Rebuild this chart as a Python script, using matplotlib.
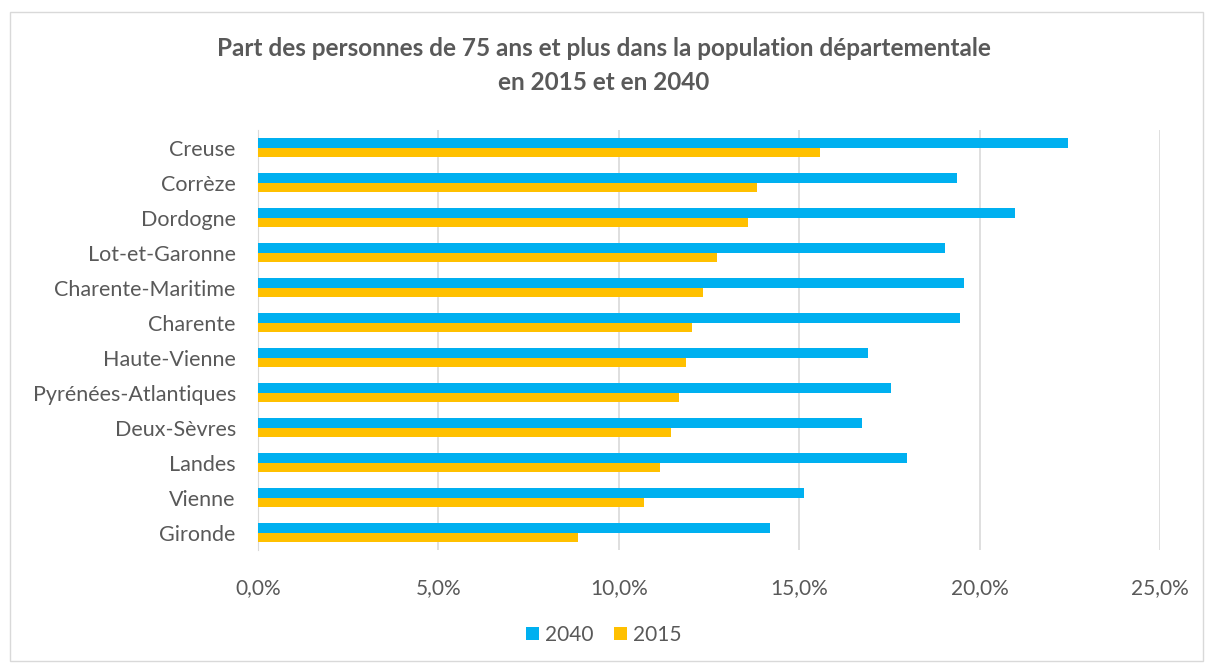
import numpy as np
import matplotlib.pyplot as plt
from matplotlib.patches import Rectangle
from matplotlib.ticker import FuncFormatter

departements = ["Creuse", "Corrèze", "Dordogne", "Lot-et-Garonne", "Charente-Maritime",
                "Charente", "Haute-Vienne", "Pyrénées-Atlantiques", "Deux-Sèvres",
                "Landes", "Vienne", "Gironde"]
part_2040 = [22.44, 19.38, 20.99, 19.04, 19.58, 19.45, 16.91, 17.54, 16.74, 17.99, 15.14, 14.20]
part_2015 = [15.58, 13.84, 13.58, 12.73, 12.33, 12.03, 11.85, 11.68, 11.44, 11.14, 10.70, 8.87]

plt.rcParams['font.family'] = ['Lato', 'DejaVu Sans']
grey = '#595959'

fig = plt.figure(figsize=(12.08, 6.63), dpi=100)
ax = fig.add_axes([258/1208, 1 - 550/663, (1160-258)/1208, (550-130)/663])

y = np.arange(len(departements))
h = 0.26
ax.barh(y - h/2, part_2040, height=h, color='#00B0F0', label='2040', zorder=3)
ax.barh(y + h/2, part_2015, height=h, color='#FFC000', label='2015', zorder=3)

ax.set_ylim(len(departements) - 0.5, -0.5)
ax.set_xlim(0, 25)
ax.set_xticks(np.arange(0, 26, 5))
ax.xaxis.set_major_formatter(FuncFormatter(lambda v, p: f"{v:.1f}%".replace('.', ',')))
ax.set_yticks(y)
ax.set_yticklabels(departements)
ax.tick_params(axis='both', length=0, colors=grey)
ax.tick_params(axis='x', pad=20, labelsize=15)
ax.tick_params(axis='y', pad=16, labelsize=15.5)
ax.grid(axis='x', color='#d9d9d9', linewidth=1.2, zorder=0)
for s in ['top', 'right', 'bottom']:
    ax.spines[s].set_visible(False)
ax.spines['left'].set_color('#d9d9d9')

fig.text(0.5, 1 - 48/663, "Part des personnes de 75 ans et plus dans la population départementale",
         ha='center', va='center', fontsize=17.5, fontweight='bold', color=grey)
fig.text(0.5, 1 - 83/663, "en 2015 et en 2040",
         ha='center', va='center', fontsize=17.5, fontweight='bold', color=grey)

fig.legend(loc='center', bbox_to_anchor=(0.5, 1 - 635/663), ncol=2, frameon=False,
           fontsize=15, labelcolor=grey, handlelength=0.6, handleheight=0.6,
           handletextpad=0.3, columnspacing=1.0)

fig.patches.append(Rectangle((10/1208, 2/663), 1193/1208, 649/663, transform=fig.transFigure,
                             fill=False, edgecolor='#d9d9d9', linewidth=1))

fig.savefig("out.png", dpi=100)
